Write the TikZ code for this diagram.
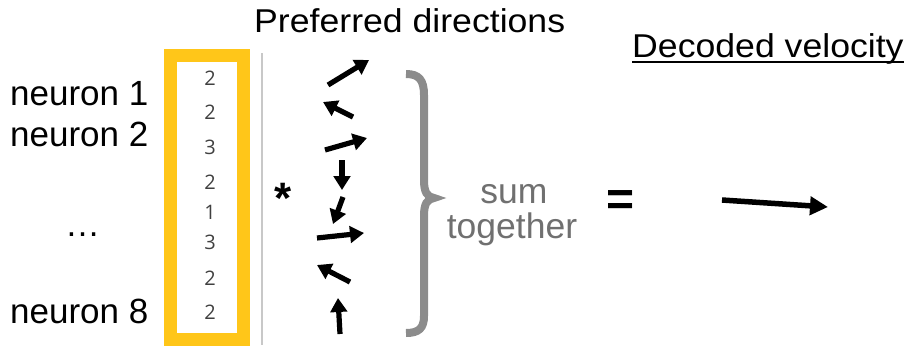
\documentclass[tikz,border=0pt]{standalone}
\usepackage{fontspec}
\setmainfont{Liberation Sans}
\newfontfamily\widefont[FakeStretch=1.08]{Liberation Sans}
\newfontfamily\digitfont{Open Sans}
\usetikzlibrary{arrows.meta}
\definecolor{boxgold}{HTML}{FFC619}
\definecolor{bracegray}{HTML}{8C8C8C}
\definecolor{sumgray}{HTML}{707070}
\definecolor{digitgray}{HTML}{404040}
\definecolor{rulegray}{HTML}{C8C8C8}
\begin{document}
\begin{tikzpicture}[x=1pt,y=-1pt,
  neuronlabel/.style={inner sep=0pt, anchor=base west, font=\fontsize{35}{40}\selectfont},
  heading/.style={inner sep=0pt, anchor=base west, font=\widefont\fontsize{33}{38}\selectfont},
  sumtext/.style={inner sep=0pt, anchor=base, text=sumgray, font=\fontsize{35.5}{40}\selectfont},
  rate/.style={inner sep=0pt, font=\digitfont\fontsize{20}{22}\selectfont, text=digitgray},
  pdarrow/.style={line width=5.2pt, -{Triangle[length=14pt,width=16.5pt]}},
  velarrow/.style={line width=5.5pt, -{Triangle[length=18pt,width=18pt]}},
]
\useasboundingbox (0,0) rectangle (911,346);

% headings
\node[heading] (pdtitle) at (254,32) {Preferred directions};
\node[heading] (dv) at (632,57) {Decoded velocity};
\draw[line width=2.2pt] ([yshift=-5pt]dv.base west) -- ([yshift=-5pt]dv.base east);

% neuron labels
\node[neuronlabel] (n1) at (10,105) {neuron 1};
\node[neuronlabel] (n2) at (10,146) {neuron 2};
\node[inner sep=0pt, anchor=base, font=\fontsize{35}{40}\selectfont] (dots) at (82.5,236) {…};
\node[neuronlabel] (n8) at (10,323) {neuron 8};

% firing-rate column
\node[draw=boxgold, line width=13pt, minimum width=73pt, minimum height=283.5pt, inner sep=0pt] (box) at (207,197.25) {};
\foreach \v/\y [count=\i] in {2/78,2/112,3/147,2/182,1/212,3/242,2/278,2/312}
  \node[rate] (r\i) at (210,\y) {\v};

% thin separator
\coordinate (septop) at (262,53);
\coordinate (sepbot) at (262,345);
\draw[rulegray, line width=1.2pt] (septop) -- (sepbot);

% multiplication sign
\node[inner sep=0pt, anchor=base, font=\bfseries\fontsize{44}{48}\selectfont] (times) at (283,213) {*};

% preferred-direction arrows (tail, tip)
\foreach \tx/\ty/\hx/\hy [count=\i] in {
  328/85/369/60,
  353/117/323/102,
  325/150/367/138,
  342/160/342/190,
  343/197/333/224,
  317/238/364/233,
  350/282/317/265,
  340/334/338/298}
{
  \coordinate (t\i) at (\tx,\ty);
  \coordinate (h\i) at (\hx,\hy);
  \draw[pdarrow] (t\i) -- (h\i);
}

% brace
\draw[bracegray, line width=8pt]
  (406,74) .. controls (419,74) and (424,80) .. (424,95)
  -- (424,180) .. controls (424,192) and (427,197) .. (434,198)
  .. controls (427,199) and (424,204) .. (424,216)
  -- (424,316) .. controls (424,328) and (419,333) .. (406,333);

\node[sumtext] (sum) at (514,203) {sum};
\node[sumtext] (together) at (512,238) {together};

% equals sign
\node[inner sep=0pt, anchor=base, font=\bfseries\fontsize{48}{52}\selectfont] (eq) at (620.5,215) {=};

% decoded velocity vector
\coordinate (vtail) at (722,200);
\coordinate (vtip) at (828,207);
\draw[velarrow] (vtail) -- (vtip);
\end{tikzpicture}
\end{document}
